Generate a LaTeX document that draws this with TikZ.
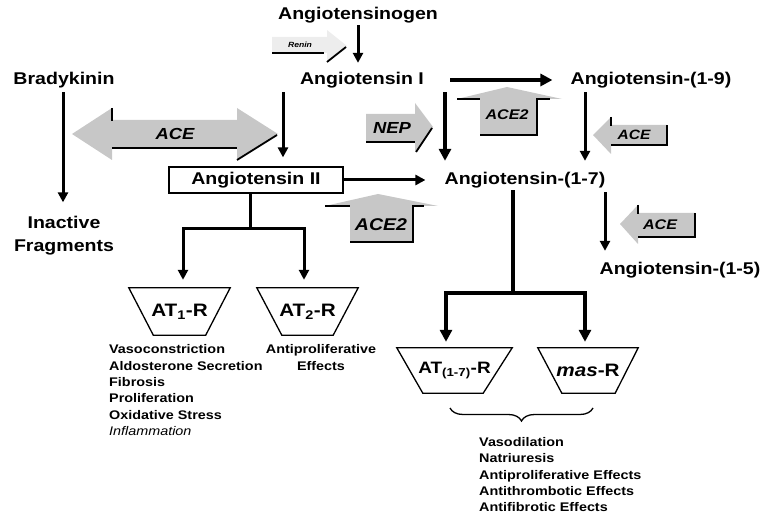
\documentclass[tikz,border=0pt]{standalone}
\usepackage{fontspec}
\setmainfont{Liberation Sans}[FakeStretch=1.15]
\usetikzlibrary{arrows.meta,shapes.geometric,decorations.pathreplacing}
\begin{document}
\begin{tikzpicture}[x=1pt,y=-1pt,
  lbl/.style={font=\fontsize{17}{23}\selectfont\bfseries, inner sep=2pt},
  fx/.style={font=\fontsize{12.5}{16.4}\selectfont\bfseries, inner sep=0pt, align=left},
  blktxt/.style={inner sep=0pt},
  blk/.style={fill=black!22},
  shadeedge/.style={line width=1.8pt},
  arr/.style={line width=3pt, -{Triangle[length=10pt,width=10pt]}},
  fatarr/.style={line width=4pt, -{Triangle[length=12pt,width=12pt]}},
  recep/.style={inner sep=0pt, font=\fontsize{18}{18}\selectfont\bfseries},
  trap/.style={draw, line width=1.3pt, line join=miter},
]
\useasboundingbox (0,0) rectangle (763,518);

% ---- gray block arrows (enzymes) ----
% Renin
\fill[black!7] (272,37) -- (327,37) -- (327,30) -- (347,46) -- (327,62) -- (327,53) -- (272,53) -- cycle;
\draw[shadeedge] (272,53) -- (324,53);
\draw[shadeedge] (327,62) -- (346,47);
\node[blktxt, font=\fontsize{7.5}{8}\selectfont\bfseries\itshape] (renin) at (300,45) {Renin};

% ACE double arrow
\fill[blk] (72,134) -- (112,108) -- (112,120) -- (237,120) -- (237,108) -- (278,134) -- (237,160) -- (237,148) -- (112,148) -- (112,160) -- cycle;
\draw[shadeedge] (112,108) -- (112,121);
\draw[shadeedge] (112,148) -- (237,148);
\draw[shadeedge] (237,160) -- (277,135);
\node[blktxt, font=\fontsize{16}{16}\selectfont\bfseries\itshape] (aceL) at (175,134) {ACE};

% NEP
\fill[blk] (366,114) -- (415,114) -- (415,103) -- (433,127) -- (415,152) -- (415,142) -- (366,142) -- cycle;
\draw[shadeedge] (366,142) -- (415,142);
\draw[shadeedge] (416,152) -- (432,128);
\node[blktxt, font=\fontsize{16}{16}\selectfont\bfseries\itshape] (nep) at (392,128) {NEP};

% ACE2 top
\fill[blk] (480,135) -- (480,99) -- (457,99) -- (507,87) -- (562,99) -- (537,99) -- (537,135) -- cycle;
\draw[shadeedge] (457,99) -- (480,99);
\draw[shadeedge] (480,135) -- (537,135) -- (537,99) -- (550,99);
\node[blktxt, font=\fontsize{14}{14}\selectfont\bfseries\itshape] (ace2a) at (507,115) {ACE2};

% ACE2 bottom
\fill[blk] (350,242) -- (350,206) -- (325,206) -- (378,194) -- (438,206) -- (413,206) -- (413,242) -- cycle;
\draw[shadeedge] (325,206) -- (350,206);
\draw[shadeedge] (350,242) -- (413,242) -- (413,206) -- (424,206);
\node[blktxt, font=\fontsize{17}{17}\selectfont\bfseries\itshape] (ace2b) at (381,225) {ACE2};

% ACE right upper
\fill[blk] (593,135) -- (611,117) -- (611,125) -- (667,125) -- (667,145) -- (611,145) -- (611,154) -- cycle;
\draw[shadeedge] (611,117) -- (611,126);
\draw[shadeedge] (611,145) -- (667,145) -- (667,125);
\node[blktxt, font=\fontsize{13.5}{14}\selectfont\bfseries\itshape] (aceR1) at (634,135) {ACE};

% ACE right lower
\fill[blk] (620,224) -- (638,205) -- (638,213) -- (695,213) -- (695,237) -- (638,237) -- (638,244) -- cycle;
\draw[shadeedge] (638,205) -- (638,214);
\draw[shadeedge] (638,237) -- (695,237) -- (695,213);
\node[blktxt, font=\fontsize{14}{14}\selectfont\bfseries\itshape] (aceR2) at (660,225) {ACE};

% ---- labels ----
\node[lbl] (ag)  at (358,15)  {Angiotensinogen};
\node[lbl] (a1)  at (362,80)  {Angiotensin I};
\node[lbl] (a19) at (651,80)  {Angiotensin-(1-9)};
\node[lbl] (bk)  at (64,80)   {Bradykinin};
\node[lbl, align=center] (frag) at (64,236) {Inactive\\Fragments};
\node[lbl, draw, line width=1.2pt, minimum width=174pt, minimum height=26pt, inner sep=0pt] (a2) at (256,180) {Angiotensin II};
\node[lbl] (a17) at (525,180) {Angiotensin-(1-7)};
\node[lbl] (a15) at (680,270) {Angiotensin-(1-5)};

% ---- receptors ----
\node[recep, minimum width=101pt, minimum height=47pt] (at1) at (179.5,311.5) {AT\textsubscript{1}-R};
\draw[trap] (at1.north west) -- (at1.north east) -- ([xshift=-24.5pt]at1.south east) -- ([xshift=24.5pt]at1.south west) -- cycle;
\node[recep, minimum width=101pt, minimum height=47pt] (at2) at (307.5,311.5) {AT\textsubscript{2}-R};
\draw[trap] (at2.north west) -- (at2.north east) -- ([xshift=-25pt]at2.south east) -- ([xshift=25pt]at2.south west) -- cycle;
\node[recep, minimum width=115pt, minimum height=45pt, font=\fontsize{16.5}{17}\selectfont\bfseries] (at17) at (454.5,370.5) {AT\textsubscript{(1-7)}-R};
\draw[trap] (at17.north west) -- (at17.north east) -- ([xshift=-29pt]at17.south east) -- ([xshift=26pt]at17.south west) -- cycle;
\node[recep, minimum width=100pt, minimum height=45pt] (mas) at (588,370.5) {\textit{mas}-R};
\draw[trap] (mas.north west) -- (mas.north east) -- ([xshift=-23pt]mas.south east) -- ([xshift=24pt]mas.south west) -- cycle;

% ---- effects ----
\node[fx, anchor=north west] (fx1) at (109,344.5) {Vasoconstriction\\Aldosterone Secretion\\Fibrosis\\Proliferation\\Oxidative Stress\\{\mdseries\itshape Inflammation}};
\node[fx, align=center, anchor=north] (fx2) at (321,344.5) {Antiproliferative\\Effects};
\node[fx, anchor=north west, font=\fontsize{12.5}{16.2}\selectfont\bfseries] (fx3) at (479,437.5) {Vasodilation\\Natriuresis\\Antiproliferative Effects\\Antithrombotic Effects\\Antifibrotic Effects};

\draw[line width=1.3pt, decorate, decoration={brace, mirror, amplitude=13pt}] (450,408) -- (593,408);

% ---- connectors ----
\draw[arr, shorten >=7pt] (ag.south) -- (ag.south |- a1.north);
\draw[fatarr, shorten <=24pt, shorten >=16pt] (a1.east) -- (a1.east -| a19.west);
\draw[arr, shorten <=2pt, shorten >=9pt] ([xshift=-79pt]a1.south) -- ([xshift=27pt]a2.north);
\draw[fatarr, shorten <=2pt, shorten >=9pt] ([xshift=83pt]a1.south) -- ([xshift=-80pt]a17.north);
\draw[arr, shorten <=2pt, shorten >=9pt] ([xshift=-66pt]a19.south) -- ([xshift=60pt]a17.north);
\draw[arr, shorten >=17pt] (a2.east) -- (a17.west);
\draw[arr, shorten <=2pt, shorten >=9pt] ([xshift=80pt]a17.south) -- ([xshift=-75pt]a15.north);
\draw[arr, shorten <=2pt, shorten >=12pt] ([xshift=-1pt]bk.south) -- ([xshift=-1pt]frag.north);

\draw[line width=3pt] ([xshift=-6pt]a2.south) -- ++(0,35) coordinate (j1);
\draw[arr, shorten >=8pt] (j1) -| ([xshift=3.5pt]at1.north);
\draw[arr, shorten >=8pt] (j1) -| ([xshift=-3.5pt]at2.north);

\draw[line width=4pt] ([xshift=-12pt]a17.south) -- ++(0,103) coordinate (j2);
\draw[fatarr, shorten >=6pt] (j2) -| ([xshift=-8.5pt]at17.north);
\draw[fatarr, shorten >=6pt] (j2) -| ([xshift=-3pt]mas.north);
\end{tikzpicture}
\end{document}
